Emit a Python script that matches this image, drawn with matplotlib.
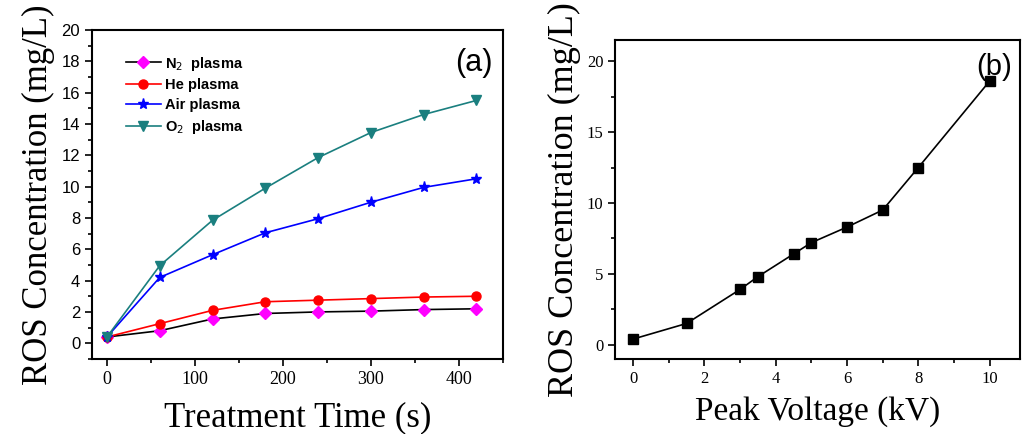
import numpy as np
import matplotlib
matplotlib.use("Agg")
import matplotlib.pyplot as plt
from matplotlib.ticker import MultipleLocator

# panel (a): treatment time series
time_s = [0, 60, 120, 180, 240, 300, 360, 420]
n2 = [0.4, 0.8, 1.55, 1.9, 2.0, 2.05, 2.15, 2.2]
he = [0.4, 1.25, 2.1, 2.65, 2.75, 2.85, 2.95, 3.0]
air = [0.4, 4.2, 5.65, 7.05, 7.95, 9.0, 9.95, 10.5]
o2 = [0.4, 4.95, 7.85, 9.9, 11.85, 13.45, 14.6, 15.5]

# panel (b): peak voltage series
voltage_kv = [0, 1.5, 3, 3.5, 4.5, 5, 6, 7, 8, 10]
ros_b = [0.4, 1.5, 3.9, 4.8, 6.4, 7.2, 8.3, 9.5, 12.5, 18.6]

serif = "Liberation Serif"
sans = "Liberation Sans"

fig = plt.figure(figsize=(10.22, 4.34), dpi=100)
axa = fig.add_axes([0.090, 0.173, 0.402, 0.758])
axb = fig.add_axes([0.602, 0.173, 0.396, 0.735])

for ax in (axa, axb):
    for s in ax.spines.values():
        s.set_linewidth(1.5)
    ax.tick_params(which="both", direction="out", top=False, right=False, width=1.2)
    ax.tick_params(which="major", length=5)
    ax.tick_params(which="minor", length=3)

# ---- panel (a)
teal = "#1a7f7f"
axa.plot(time_s, n2, "-", color="black", lw=1.2, marker="D", ms=6,
         mfc="#ff00ff", mec="#ff00ff", label="N$_2$  plasma")
axa.plot(time_s, he, "-", color="red", lw=1.2, marker="o", ms=6.5,
         mfc="red", mec="red", label="He plasma")
axa.plot(time_s, air, "-", color="blue", lw=1.2, marker="*", ms=8,
         mfc="blue", mec="blue", label="Air plasma")
axa.plot(time_s, o2, "-", color=teal, lw=1.2, marker="v", ms=7,
         mfc=teal, mec=teal, label="O$_2$  plasma")

axa.set_xlim(-17, 450)
axa.set_ylim(-1, 20)
axa.xaxis.set_major_locator(MultipleLocator(100))
axa.xaxis.set_minor_locator(MultipleLocator(50))
axa.yaxis.set_major_locator(MultipleLocator(2))
axa.yaxis.set_minor_locator(MultipleLocator(1))
for lab in axa.get_xticklabels():
    lab.set_fontfamily(serif)
    lab.set_fontsize(13)
for lab in axa.get_yticklabels():
    lab.set_fontfamily(sans)
    lab.set_fontsize(12)
axa.set_xlabel("Treatment Time (s)", fontfamily=serif, fontsize=25, labelpad=10)
axa.set_ylabel("ROS Concentration (mg/L)", fontfamily=serif, fontsize=25, labelpad=5)
axa.text(0.93, 0.90, "(a)", transform=axa.transAxes, fontfamily=sans,
         fontsize=22, ha="center", va="center")
leg = axa.legend(loc="upper left", bbox_to_anchor=(0.05, 0.965), frameon=False,
                 prop={"family": sans, "weight": "bold", "size": 10.5},
                 handlelength=2.4, handletextpad=0.3, labelspacing=0.4)

# ---- panel (b)
axb.plot(voltage_kv, ros_b, "-", color="black", lw=1.2, marker="s", ms=7)
axb.set_xlim(-0.5, 10.85)
axb.set_ylim(-1, 21.5)
axb.xaxis.set_major_locator(MultipleLocator(2))
axb.xaxis.set_minor_locator(MultipleLocator(1))
axb.yaxis.set_major_locator(MultipleLocator(5))
axb.yaxis.set_minor_locator(MultipleLocator(2.5))
for lab in axb.get_xticklabels() + axb.get_yticklabels():
    lab.set_fontfamily(serif)
    lab.set_fontsize(12)
axb.set_xlabel("Peak Voltage (kV)", fontfamily=serif, fontsize=24, labelpad=7)
axb.set_ylabel("ROS Concentration (mg/L)", fontfamily=serif, fontsize=26, labelpad=4)
axb.text(0.935, 0.915, "(b)", transform=axb.transAxes, fontfamily=sans,
         fontsize=21, ha="center", va="center")

fig.savefig("out.png", dpi=100)
